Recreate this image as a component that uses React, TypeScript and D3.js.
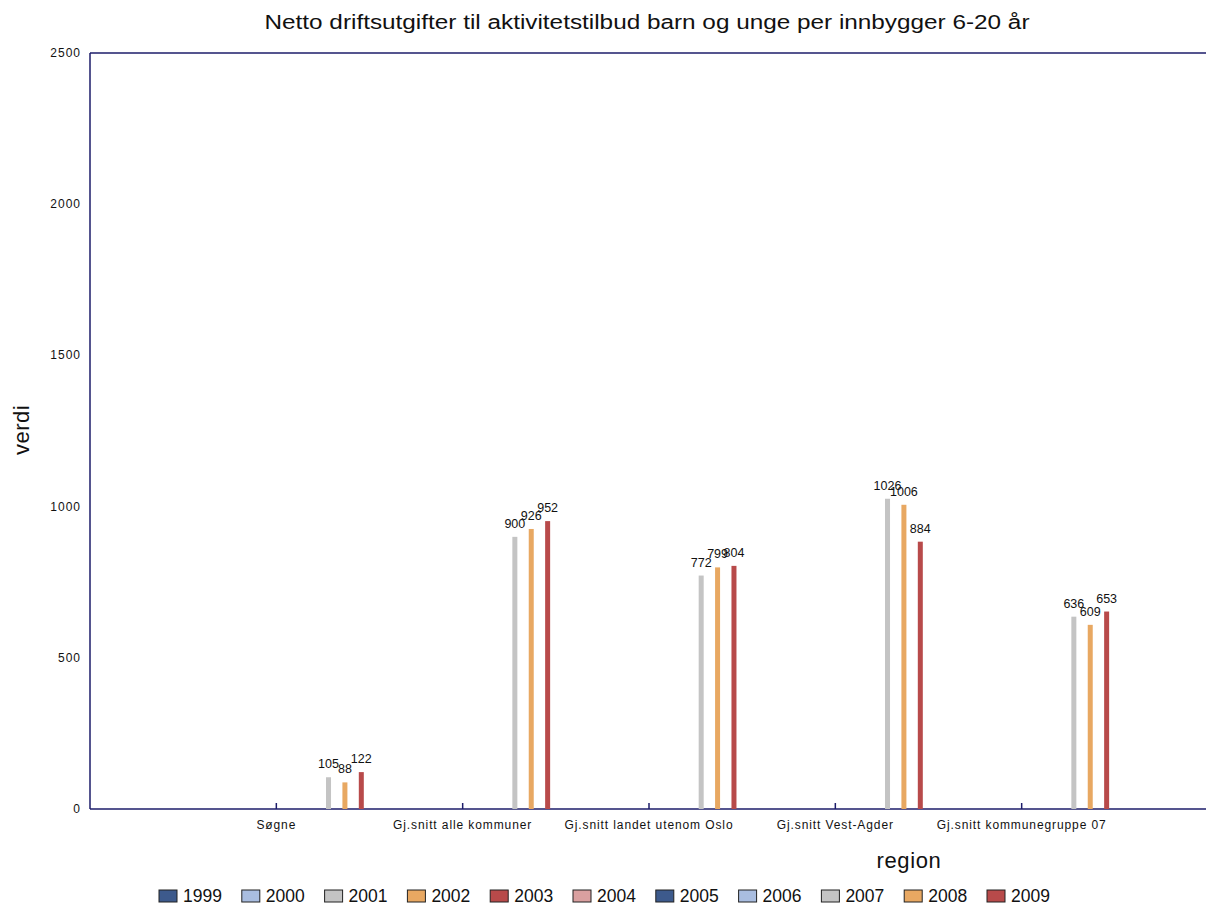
import React from "react";
import * as d3 from "d3";

const regions = [
  "Søgne",
  "Gj.snitt alle kommuner",
  "Gj.snitt landet utenom Oslo",
  "Gj.snitt Vest-Agder",
  "Gj.snitt kommunegruppe 07",
];
const years = ["1999", "2000", "2001", "2002", "2003", "2004", "2005", "2006", "2007", "2008", "2009"];
const yearColors = ["#3d5a8c", "#a9bde0", "#c4c4c4", "#e8a862", "#b84a4a", "#daa0a0", "#3d5a8c", "#a9bde0", "#c4c4c4", "#e8a862", "#b84a4a"];
const values2007 = [105, 900, 772, 1026, 636];
const values2008 = [88, 926, 799, 1006, 609];
const values2009 = [122, 952, 804, 884, 653];
const yTicks = [0, 500, 1000, 1500, 2000, 2500];

const seriesData: { year: string; values: number[] }[] = [
  { year: "2007", values: values2007 },
  { year: "2008", values: values2008 },
  { year: "2009", values: values2009 },
];

export default function App() {
  const W = 1206, H = 906;
  const left = 90, right = 1208, top = 53, bottom = 809;
  const axisColor = "#1c1c6a";
  const x = d3.scalePoint<string>().domain(regions).range([left, right]).padding(1);
  const step = x.step();
  const inner = d3.scaleBand<string>().domain(years).range([-step / 2 + 6, step / 2]);
  const y = d3.scaleLinear().domain([0, 2500]).range([bottom, top]);
  const colorOf = (yr: string) => yearColors[years.indexOf(yr)];
  const barW = 5;
  const font = "Liberation Sans, Arial, sans-serif";

  return (
    <svg width={W} height={H} style={{ position: "absolute", left: 0, top: 0, background: "#fff" }} fontFamily={font}>
      <rect x={0} y={0} width={W} height={H} fill="#fff" />
      <text x={647} y={29} textAnchor="middle" fontSize={20} fill="#111" textLength={765} lengthAdjust="spacingAndGlyphs">
        Netto driftsutgifter  til aktivitetstilbud barn og unge per innbygger 6-20 år
      </text>
      {/* axes */}
      <line x1={left} x2={W} y1={top} y2={top} stroke={axisColor} strokeWidth={1.5} />
      <line x1={left} x2={left} y1={top} y2={bottom} stroke={axisColor} strokeWidth={1.5} />
      <line x1={left} x2={W} y1={bottom} y2={bottom} stroke={axisColor} strokeWidth={1.5} />
      {yTicks.map((t) => (
        <text key={t} x={81} y={y(t) + 4} textAnchor="end" fontSize={12} letterSpacing={1} fill="#111">
          {t}
        </text>
      ))}
      {regions.map((r) => (
        <g key={r}>
          <line x1={x(r)} x2={x(r)} y1={bottom} y2={bottom - 6} stroke={axisColor} strokeWidth={1.5} />
          <text x={x(r)} y={829} textAnchor="middle" fontSize={12} letterSpacing={0.9} fill="#111">
            {r}
          </text>
        </g>
      ))}
      {/* bars */}
      {seriesData.map((s) =>
        s.values.map((v, i) => {
          const cx = (x(regions[i]) as number) + (inner(s.year) as number) + inner.bandwidth() / 2;
          return (
            <g key={s.year + i}>
              <rect x={cx - barW / 2} y={y(v)} width={barW} height={bottom - y(v)} fill={colorOf(s.year)} />
              <text x={cx} y={y(v) - 9} textAnchor="middle" fontSize={12.5} fill="#111">
                {v}
              </text>
            </g>
          );
        })
      )}
      <text x={29} y={430} textAnchor="middle" fontSize={22} letterSpacing={0.5} fill="#111" transform="rotate(-90 29 430)">
        verdi
      </text>
      <text x={909} y={868} textAnchor="middle" fontSize={22} letterSpacing={0.6} fill="#111">
        region
      </text>
      {/* legend */}
      {years.map((yr, i) => {
        const lx = 159 + i * 82.8;
        return (
          <g key={yr + i}>
            <rect x={lx} y={890} width={18} height={12} fill={yearColors[i]} stroke="#222" strokeWidth={1} />
            <text x={lx + 24} y={902} fontSize={17.5} fill="#111">
              {yr}
            </text>
          </g>
        );
      })}
    </svg>
  );
}
